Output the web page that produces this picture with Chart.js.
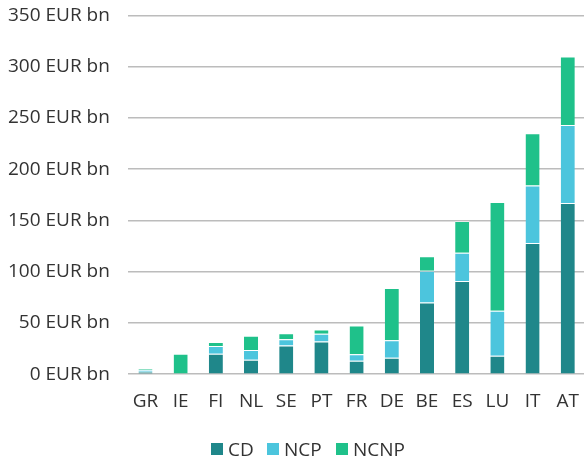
<!DOCTYPE html>
<html>
<head>
<meta charset="utf-8">
<script src="https://cdn.jsdelivr.net/npm/chart.js@4"></script>
<style>
html,body{margin:0;padding:0;background:#fff;overflow:hidden;width:584px;height:462px;}
#wrap{width:605px;height:483px;position:absolute;left:-10px;top:-14px;}
.lg{position:absolute;top:437px;height:24px;line-height:24px;font-family:'Open Sans',sans-serif;font-size:19px;color:#333;white-space:nowrap;}
.lg i{position:absolute;left:0;top:6px;width:12px;height:12px;}
.lg span{position:absolute;left:17px;top:0;}
</style>
</head>
<body>
<div id="wrap"><canvas id="c"></canvas></div>
<div id="legend"></div>
<script>
const categories = ["GR","IE","FI","NL","SE","PT","FR","DE","BE","ES","LU","IT","AT"];
const cdValues   = [2.5, 0, 20, 14, 28, 32, 13, 16, 70, 91, 18, 128, 167];
const ncpValues  = [1.5, 0, 7.5, 9.5, 6, 7.5, 6.5, 17, 31, 27.5, 44, 56, 76];
const ncnpValues = [1, 20, 4, 14, 6, 4, 28, 51, 14, 31, 106, 51, 67];
const yTicks = [0, 50, 100, 150, 200, 250, 300, 350];
const seriesNames = ["CD", "NCP", "NCNP"];
const seriesColors = ["#1f878a", "#4cc5dd", "#1fc18a"];

const font = {family: "'Open Sans', sans-serif", size: 19};
const data = {
  labels: categories,
  datasets: [cdValues, ncpValues, ncnpValues].map((vals, i) => ({
    label: seriesNames[i],
    data: vals,
    backgroundColor: seriesColors[i],
    borderColor: "rgba(255,255,255,0.35)",
    borderWidth: {top: 1, left: 0, right: 0, bottom: 0},
    barPercentage: 0.8,
    categoryPercentage: 0.5
  }))
};

const chart = new Chart(document.getElementById('c'), {
  type: 'bar',
  data: data,
  options: {
    responsive: true,
    maintainAspectRatio: false,
    animation: false,
    layout: {padding: {top: 0, bottom: 40, left: 0, right: 0}},
    plugins: {
      legend: {display: false},
      tooltip: {enabled: false}
    },
    scales: {
      x: {
        stacked: true,
        grid: {display: false, drawTicks: false},
        border: {display: false},
        ticks: {font: font, color: '#333', padding: 16}
      },
      y: {
        stacked: true,
        min: 0, max: 350,
        afterBuildTicks: (axis) => { axis.ticks = yTicks.map(v => ({value: v})); },
        grid: {color: '#bcbcbc', lineWidth: 1.5, drawTicks: false},
        border: {display: false},
        ticks: {font: font, color: '#333', padding: 18, callback: v => v + ' EUR bn'}
      }
    }
  }
});

// HTML legend built from the chart's datasets
const legendLefts = [211, 267, 336];
const lg = document.getElementById('legend');
chart.data.datasets.forEach((ds, i) => {
  const d = document.createElement('div');
  d.className = 'lg';
  d.style.left = legendLefts[i] + 'px';
  const b = document.createElement('i');
  b.style.background = ds.backgroundColor;
  const s = document.createElement('span');
  s.textContent = ds.label;
  d.appendChild(b); d.appendChild(s);
  lg.appendChild(d);
});
</script>
</body>
</html>
